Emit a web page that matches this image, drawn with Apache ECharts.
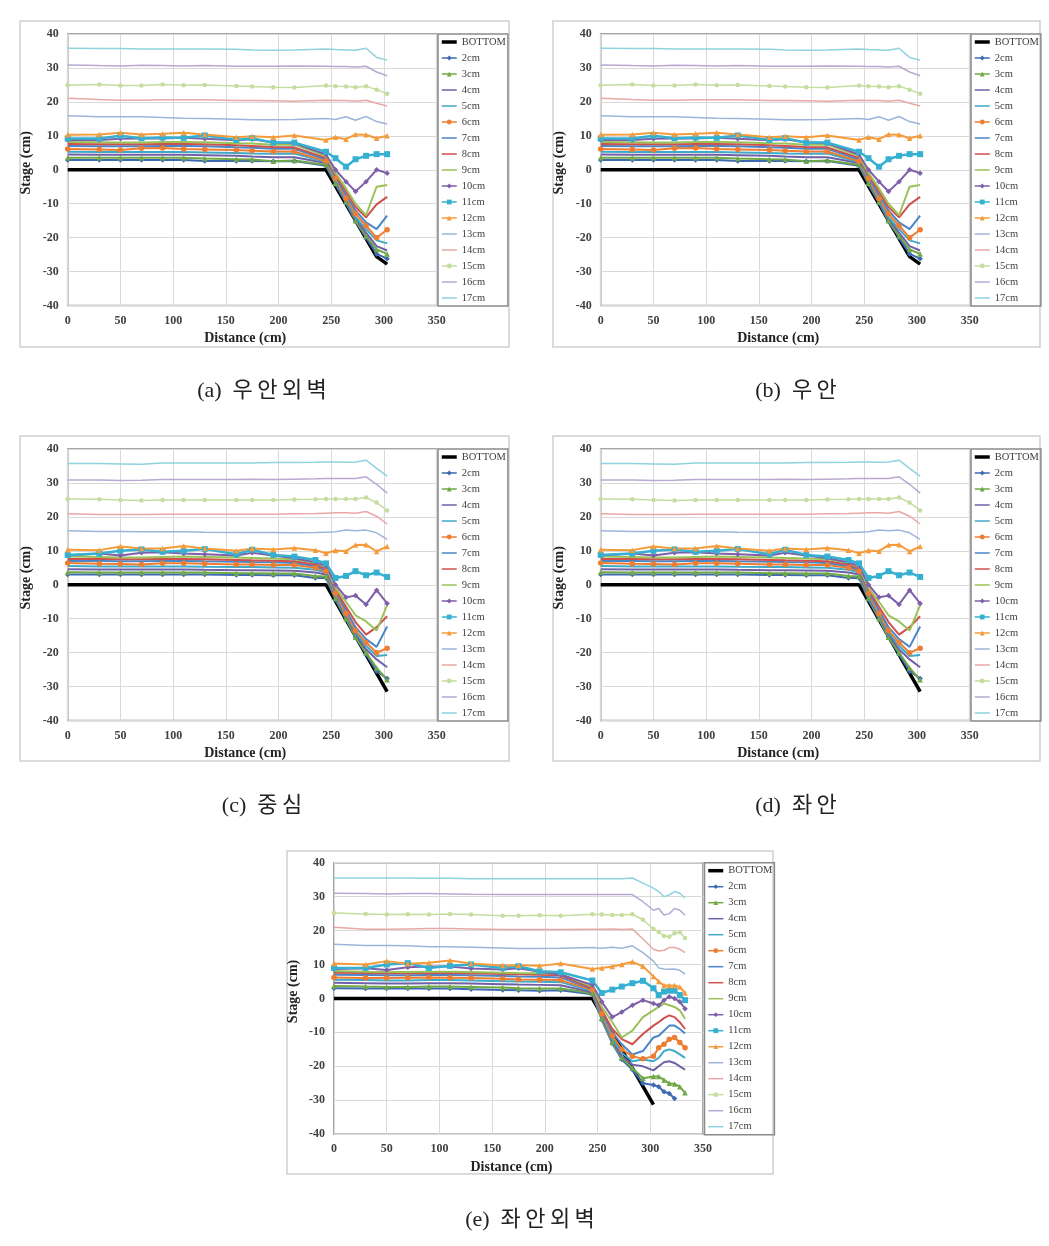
<!DOCTYPE html>
<html><head><meta charset="utf-8">
<script src="https://cdn.jsdelivr.net/npm/echarts@6/dist/echarts.min.js"></script>
<style>html,body{margin:0;padding:0;background:#fff;} #c{width:1049px;height:1246px;}</style>
</head><body><div id="c"></div>
<script>
const SERIES_NAMES = ['BOTTOM','2cm','3cm','4cm','5cm','6cm','7cm','8cm','9cm','10cm','11cm','12cm','13cm','14cm','15cm','16cm','17cm'];
const CAPTIONS = ['(a)  우\u2009안\u2009외\u2009벽','(b)  우\u2009안','(c)  중\u2009심','(d)  좌\u2009안','(e)  좌\u2009안\u2009외\u2009벽'];

// Panel (a) / (b)
const DIST_A = [0,30,50,70,90,110,130,160,175,195,215,245,254,264,273,283,293,303];
const BOTTOM_DIST_A = [0,245,293,303];
const BOTTOM_A = [0,0,-25.6,-27.8];
const STAGE_A = [
  [2.9,2.9,2.9,2.9,2.9,2.9,2.6,2.6,2.6,2.5,2.6,1.2,-4.3,-9.8,-15.2,-20.0,-24.8,-26.2],
  [3.5,3.5,3.5,3.5,3.5,3.5,3.3,3.1,3.0,2.5,2.7,1.5,-4.0,-9.5,-15.0,-19.5,-23.5,-24.8],
  [4.5,4.4,4.4,4.4,4.4,4.4,4.3,4.1,3.9,3.7,3.7,2.0,-3.5,-9.5,-14.5,-18.5,-22.5,-23.8],
  [5.3,5.2,5.2,5.2,5.2,5.2,5.1,4.9,4.8,4.7,4.8,2.3,-3.0,-9.0,-14.0,-17.5,-20.8,-21.7],
  [6.1,6.0,5.8,6.3,6.4,6.1,6.0,5.8,5.6,5.4,5.4,2.5,-2.5,-8.5,-13.0,-16.5,-20.0,-17.7],
  [7.0,6.9,6.9,6.9,7.0,7.0,6.9,6.6,6.5,6.2,6.2,3.0,-2.0,-7.5,-12.0,-15.5,-17.5,-13.5],
  [7.6,7.5,7.5,7.5,7.6,7.6,7.5,7.2,7.0,6.7,6.6,3.5,-1.5,-6.5,-11.0,-14.0,-10.2,-8.0],
  [8.2,8.1,8.0,8.0,8.2,8.2,8.1,7.8,7.7,7.4,7.4,4.0,-1.0,-5.5,-10.0,-13.4,-5.0,-4.5],
  [8.8,8.8,9.1,9.2,9.2,9.4,9.1,8.7,9.0,8.0,7.8,4.5,0.0,-3.5,-6.4,-3.5,0.0,-1.0],
  [9.2,9.2,10.0,9.3,9.5,9.4,10.1,8.8,9.3,8.0,8.0,5.3,3.4,0.9,3.1,4.1,4.6,4.6],
  [10.3,10.4,10.9,10.4,10.6,10.9,10.4,9.6,9.9,9.6,10.1,8.8,9.6,9.0,10.4,10.3,9.3,10.0],
  [15.9,15.6,15.6,15.6,15.4,15.2,15.1,14.9,14.7,14.7,14.8,15.1,14.8,15.6,14.6,15.7,14.2,13.5],
  [21.1,20.7,20.5,20.5,20.6,20.6,20.6,20.4,20.4,20.3,20.2,20.5,20.4,20.4,20.2,20.5,19.6,18.8],
  [24.9,25.1,24.8,24.8,25.1,24.9,25.0,24.7,24.5,24.3,24.2,24.8,24.6,24.5,24.3,24.6,23.6,22.4],
  [30.9,30.7,30.6,30.8,30.7,30.6,30.7,30.5,30.5,30.5,30.6,30.5,30.4,30.4,30.3,30.5,28.8,27.7],
  [35.8,35.7,35.7,35.6,35.6,35.6,35.6,35.5,35.3,35.2,35.3,35.6,35.4,35.3,35.2,35.8,33.1,32.3]
];

// Panel (c) / (d)
const DIST_C = [0,30,50,70,90,110,130,160,175,195,215,235,245,254,264,273,283,293,303];
const BOTTOM_DIST_C = [0,245,303];
const BOTTOM_C = [0,0,-31.5];
const STAGE_C = [
  [3.0,3.0,3.0,3.0,3.0,3.0,3.0,2.9,2.9,2.8,2.8,2.0,2.0,-4.5,-10.2,-15.5,-20.5,-25.5,-27.6],
  [3.7,3.6,3.6,3.6,3.6,3.6,3.6,3.4,3.4,3.3,3.3,2.6,2.4,-4.0,-10.0,-15.5,-20.0,-24.5,-28.0],
  [4.6,4.5,4.5,4.5,4.5,4.5,4.4,4.3,4.3,4.2,4.1,3.6,3.0,-3.5,-9.5,-14.5,-19.0,-22.0,-24.3],
  [5.5,5.4,5.4,5.4,5.4,5.4,5.3,5.2,5.2,5.1,5.0,4.4,3.6,-3.0,-9.0,-14.0,-18.0,-21.0,-20.7],
  [6.4,6.2,6.1,6.0,6.3,6.3,6.2,6.0,6.0,5.8,5.8,5.0,4.0,-2.5,-8.5,-13.5,-17.0,-20.0,-18.7],
  [7.0,7.0,6.9,6.9,7.0,7.0,6.9,6.8,6.7,6.6,6.4,5.5,4.3,-2.0,-7.5,-12.5,-16.0,-18.3,-12.3],
  [7.6,7.6,7.5,7.5,7.6,7.6,7.5,7.3,7.2,7.1,6.9,6.0,4.8,-1.5,-6.5,-11.0,-14.7,-12.5,-9.3],
  [8.3,8.2,8.0,8.0,8.2,8.3,8.2,8.0,7.9,7.7,7.5,6.5,5.2,-1.0,-5.0,-9.0,-10.8,-13.5,-6.0],
  [8.6,9.2,8.6,9.4,9.6,9.2,9.0,8.6,9.4,8.6,7.8,6.6,5.6,0.0,-3.7,-3.2,-5.8,-1.6,-5.5],
  [8.8,9.2,10.0,10.4,9.7,10.0,10.5,9.0,10.3,8.8,8.3,7.3,6.3,2.0,2.6,4.0,2.8,3.6,2.3],
  [10.3,10.2,11.3,10.7,10.7,11.4,10.7,10.0,10.7,10.4,10.8,10.2,9.3,10.1,9.9,11.7,11.8,9.8,11.3],
  [15.9,15.7,15.7,15.6,15.6,15.6,15.5,15.4,15.4,15.4,15.3,15.4,15.5,15.6,16.1,15.9,16.1,15.3,13.4],
  [20.9,20.7,20.7,20.7,20.8,20.8,20.8,20.8,20.8,20.8,20.9,21.0,21.1,21.2,21.2,21.1,21.6,20.2,17.9],
  [25.3,25.2,25.0,24.8,25.0,25.0,25.0,25.0,25.0,25.0,25.1,25.2,25.3,25.3,25.3,25.3,25.7,24.2,21.9],
  [30.9,30.9,30.7,30.8,31.0,31.0,31.0,31.0,31.1,31.0,31.1,31.2,31.3,31.3,31.3,31.3,31.8,29.6,27.0],
  [35.7,35.7,35.6,35.5,35.9,35.9,35.9,35.9,35.9,36.0,36.0,36.1,36.2,36.2,36.1,36.2,36.7,34.3,32.0]
];

// Panel (e)
const DIST_E = [0,30,50,70,90,110,130,160,175,195,215,245,254,264,273,283,293,303,308,313,318,323,328,333];
const BOTTOM_DIST_E = [0,245,303];
const BOTTOM_E = [0,0,-31.3];
const STAGE_E = [
  [3.0,2.9,2.9,2.9,2.9,2.9,2.7,2.5,2.4,2.3,2.4,1.2,-6.3,-13.3,-18.0,-21.0,-25.0,-25.5,-26.0,-27.5,-28.0,-29.5,null,null],
  [3.7,3.5,3.4,3.4,3.5,3.5,3.4,3.2,3.0,2.9,2.9,1.5,-6.0,-13.0,-17.5,-20.5,-23.5,-23.0,-23.0,-24.0,-25.0,-25.2,-26.0,-27.8],
  [4.6,4.5,4.4,4.4,4.5,4.5,4.4,4.2,4.1,4.0,3.9,1.8,-5.5,-12.5,-17.0,-19.5,-20.0,-21.2,-20.0,-18.8,-18.5,-19.0,-20.0,-21.0],
  [5.5,5.4,5.3,5.3,5.4,5.4,5.3,5.1,5.0,4.9,4.8,2.2,-5.0,-12.0,-16.0,-18.5,-18.0,-18.5,-17.5,-15.5,-15.0,-15.5,-16.5,-17.5],
  [6.2,6.0,6.0,6.1,6.2,6.1,6.0,5.8,5.6,5.5,5.4,2.5,-4.5,-11.0,-15.0,-17.0,-17.8,-17.0,-14.5,-13.5,-12.0,-11.5,-13.0,-14.5],
  [7.0,6.9,6.8,6.8,6.9,6.9,6.8,6.6,6.5,6.4,6.2,2.8,-4.0,-10.0,-13.5,-16.5,-15.5,-11.5,-11.0,-9.5,-8.0,-8.0,-9.0,-10.3],
  [7.6,7.5,7.4,7.4,7.5,7.5,7.4,7.2,7.1,7.0,6.8,3.0,-3.5,-9.0,-12.0,-13.5,-10.5,-8.0,-7.0,-5.8,-5.0,-5.5,-7.0,-9.0],
  [8.1,7.9,7.8,7.8,7.9,7.9,7.8,7.6,7.5,7.4,7.2,3.5,-2.5,-7.0,-11.5,-9.5,-5.5,-3.5,-2.5,-1.5,-2.0,-2.5,-3.5,-6.0],
  [8.7,8.9,8.4,9.2,9.4,9.4,8.8,8.5,8.9,7.9,7.0,4.0,-1.0,-5.5,-4.0,-2.0,-0.5,-1.5,-2.0,-0.5,0.5,0.0,-1.0,-3.0],
  [9.0,9.0,10.0,10.4,9.0,9.6,10.0,9.0,9.5,8.0,7.7,5.3,1.6,2.6,3.5,4.5,5.2,3.0,1.0,2.0,2.3,2.3,1.0,-0.5],
  [10.3,10.0,11.0,10.2,10.5,11.2,10.3,9.7,9.8,9.6,10.3,8.7,9.0,9.4,10.0,10.8,9.5,6.5,5.0,3.8,3.8,3.8,3.4,1.6],
  [16.0,15.6,15.6,15.5,15.2,15.2,15.1,14.9,14.7,14.7,14.8,15.0,14.8,15.1,14.8,15.5,13.5,11.0,9.0,8.7,8.6,8.7,8.3,7.2],
  [21.0,20.4,20.4,20.5,20.6,20.6,20.5,20.3,20.3,20.3,20.3,20.4,20.4,20.5,20.3,20.5,17.5,14.5,14.0,14.2,15.0,15.0,14.5,13.5],
  [25.2,24.9,24.7,24.8,24.7,24.9,24.7,24.4,24.4,24.5,24.4,24.8,24.7,24.6,24.6,24.8,23.2,20.5,19.6,18.4,18.2,19.2,19.5,17.8],
  [31.0,30.9,30.8,30.9,30.9,30.8,30.7,30.6,30.6,30.6,30.6,30.6,30.6,30.6,30.6,30.6,28.5,26.0,26.5,24.6,25.0,26.5,26.0,24.5],
  [35.5,35.5,35.5,35.5,35.4,35.4,35.3,35.3,35.3,35.3,35.3,35.3,35.3,35.3,35.3,35.5,34.0,32.5,31.5,30.0,30.5,31.5,31.0,29.6]
];

const COLORS = ['#000000','#3D6BB3','#70A845','#7060A8','#3FA9C8','#ED7D31','#4A86C8','#D0504D','#9BC259','#7E5FA9','#36B0D0','#F59B3A','#9DB5DB','#E8A8A6','#C5DD9E','#B8A8D2','#8ED3DE'];
const SYMBOLS = {'2cm':'diamond','3cm':'triangle','6cm':'circle','10cm':'diamond','11cm':'rect','12cm':'triangle','15cm':'circle'};

const PANELS = [
  {dist:DIST_A, stage:STAGE_A, bd:BOTTOM_DIST_A, bv:BOTTOM_A, gx:67.7, gy:34, box:[20,21,489,326], lx:438, cap:[262,391]},
  {dist:DIST_A, stage:STAGE_A, bd:BOTTOM_DIST_A, bv:BOTTOM_A, gx:600.7, gy:34, box:[553,21,487,326], lx:971, cap:[796,391]},
  {dist:DIST_C, stage:STAGE_C, bd:BOTTOM_DIST_C, bv:BOTTOM_C, gx:67.7, gy:449, box:[20,436,489,325], lx:438, cap:[262,806]},
  {dist:DIST_C, stage:STAGE_C, bd:BOTTOM_DIST_C, bv:BOTTOM_C, gx:600.7, gy:449, box:[553,436,487,325], lx:971, cap:[796,806]},
  {dist:DIST_E, stage:STAGE_E, bd:BOTTOM_DIST_E, bv:BOTTOM_E, gx:334, gy:862.7, box:[287,851,486,323], lx:704.5, cap:[530,1220]}
];

const SERIF = 'Liberation Serif';
const HIDE = 'rgba(0,0,0,0)';
const legendData = SERIES_NAMES.map(n => {
  if (n === 'BOTTOM') return {name:n, itemStyle:{color:HIDE, borderColor:HIDE, borderWidth:0}, lineStyle:{width:3.5, color:'#000'}};
  if (SYMBOLS[n]) return {name:n, lineStyle:{width:1.5}};
  return {name:n, itemStyle:{color:HIDE, borderColor:HIDE, borderWidth:0}, lineStyle:{width:1.5}};
});
const grids=[], xAxes=[], yAxes=[], legends=[], series=[], graphics=[];
PANELS.forEach((p, k) => {
  grids.push({left:p.gx, top:p.gy, width:369, height:271.5, show:true, borderColor:'#8a8a8a', borderWidth:1.5, containLabel:false});
  xAxes.push({type:'value', gridIndex:k, min:0, max:350, interval:50,
    axisLine:{show:false}, axisTick:{show:false},
    splitLine:{show:true, lineStyle:{color:'#d9d9d9', width:1}},
    axisLabel:{fontFamily:SERIF, fontSize:12, fontWeight:'bold', color:'#404040', margin:9},
    name:'Distance (cm)', nameLocation:'middle', nameGap:26,
    nameTextStyle:{fontFamily:SERIF, fontSize:14, fontWeight:'bold', color:'#222', padding:[0,14,0,0]}});
  yAxes.push({type:'value', gridIndex:k, min:-40, max:40, interval:10,
    axisLine:{show:false}, axisTick:{show:false},
    splitLine:{show:true, lineStyle:{color:'#d9d9d9', width:1}},
    axisLabel:{fontFamily:SERIF, fontSize:12, fontWeight:'bold', color:'#404040', margin:9},
    name:'Stage (cm)', nameLocation:'middle', nameGap:34, nameRotate:90,
    nameTextStyle:{fontFamily:SERIF, fontSize:14, fontWeight:'bold', color:'#222', padding:[0,0,0,14]}});
  legends.push({data:legendData, orient:'vertical', left:p.lx, top:p.gy, itemWidth:15, itemHeight:6, itemGap:4,
    itemTextGap:2, padding:[2,2,2,2], borderColor:'#8a8a8a', borderWidth:1.5, selectedMode:false,
    textStyle:{fontFamily:SERIF, fontSize:10.5, lineHeight:12, color:'#404040'}});
  series.push({name:'BOTTOM', type:'line', xAxisIndex:k, yAxisIndex:k, symbol:'none',
    data:p.bd.map((d,i)=>[d,p.bv[i]]), lineStyle:{color:'#000', width:3.5}, itemStyle:{color:'#000'}, z:2});
  p.stage.forEach((row, j) => {
    const name = SERIES_NAMES[j+1];
    const col = COLORS[j+1];
    const sym = SYMBOLS[name] || 'none';
    const w = name==='11cm' ? 2.5 : (j>=11 ? 1.5 : 2);
    series.push({name, type:'line', xAxisIndex:k, yAxisIndex:k,
      symbol:sym, symbolSize: name==='11cm'?6:(name==='15cm'?4.5:5.5), showSymbol: sym!=='none',
      data:p.dist.map((d,i)=>[d,row[i]]).filter(v=>v[1]!==null),
      lineStyle:{color:col, width:w}, itemStyle:{color:col}, z:3});
  });
  graphics.push({type:'rect', shape:{x:p.box[0], y:p.box[1], width:p.box[2], height:p.box[3]},
    style:{fill:'none', stroke:'#cfcfcf', lineWidth:1.5}, silent:true});
  graphics.push({type:'text', x:p.cap[0], y:p.cap[1],
    style:{text:CAPTIONS[k], textAlign:'center', textVerticalAlign:'middle', font:'22px "Liberation Serif", "Noto Sans CJK KR"', fill:'#222'}});
});

const chart = echarts.init(document.getElementById('c'), null, {renderer:'canvas'});
chart.setOption({animation:false, backgroundColor:'#fff', grid:grids, xAxis:xAxes, yAxis:yAxes, legend:legends, series, graphic:graphics});
</script></body></html>
